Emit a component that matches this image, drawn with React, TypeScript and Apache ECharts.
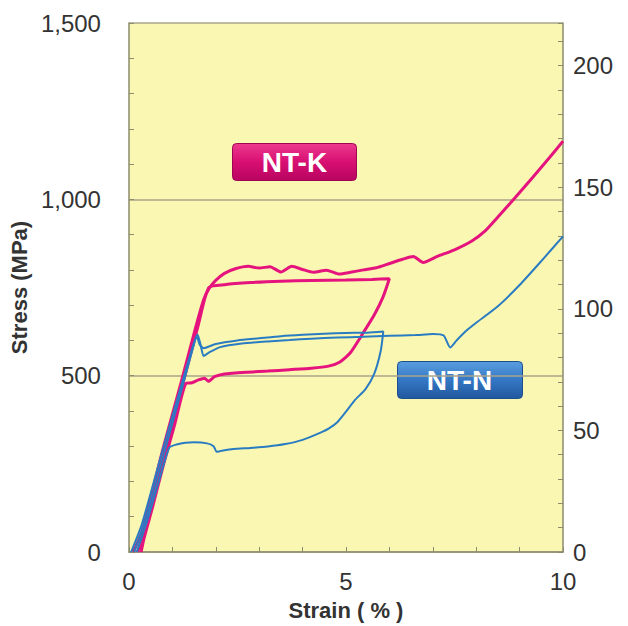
import React, { useEffect, useRef } from 'react';
import * as echarts from 'echarts';

// Unit conversion for the right axis (ksi)
const MPA_PER_KSI = 6.895;

// Tick labels
const strainTicks = [0, 5, 10];
const stressTicks = [0, 500, 1000, 1500];
const ksiTicks = [0, 50, 100, 150, 200];

// NT-K (pink): tensile to 10 % strain  [strain %, stress MPa]
const ntkTensile: [number, number][] = [
  [0.1, 0], [0.3, 60], [0.8, 300], [1.2, 480], [1.5, 620], [1.72, 715], [1.85, 748],
  [2.0, 770], [2.2, 790], [2.45, 803], [2.75, 810], [3.0, 805], [3.25, 809], [3.5, 794],
  [3.75, 810], [4.0, 801], [4.25, 793], [4.55, 799], [4.85, 788], [5.1, 793], [5.4, 800],
  [5.7, 806], [6.0, 818], [6.3, 830], [6.55, 838], [6.78, 821], [7.1, 838], [7.5, 857],
  [7.9, 882], [8.2, 910], [8.5, 950], [8.9, 1005], [9.3, 1062], [9.7, 1120], [10.0, 1165],
];

// NT-K (pink): load to 6 % and unload
const ntkCycle: [number, number][] = [
  [0.2, 0], [0.4, 80], [0.9, 320], [1.3, 505], [1.6, 645], [1.84, 750],
  [2.2, 758], [2.8, 764], [3.5, 768], [4.2, 770], [5.0, 771], [5.6, 773], [6.0, 775],
  [5.85, 722], [5.65, 672], [5.4, 622], [5.1, 565], [4.85, 538], [4.6, 527], [4.2, 521],
  [3.7, 517], [3.2, 513], [2.7, 510], [2.2, 505], [1.97, 497], [1.83, 484], [1.74, 493],
  [1.6, 488], [1.45, 480], [1.31, 478], [1.05, 360], [0.8, 250], [0.55, 130], [0.35, 40], [0.28, 0],
];

// NT-N (blue): tensile to 10 % strain
const ntnTensile: [number, number][] = [
  [0.05, 0], [0.3, 80], [0.8, 300], [1.2, 470], [1.45, 575], [1.58, 617], [1.65, 588],
  [1.72, 556], [1.85, 566], [2.1, 581], [2.6, 591], [3.2, 597], [3.7, 601], [4.2, 605],
  [4.8, 608], [5.4, 610], [6.0, 613], [6.6, 615], [7.0, 618], [7.25, 614], [7.4, 580],
  [7.55, 600], [7.75, 625], [8.0, 650], [8.5, 697], [9.0, 757], [9.5, 825], [10.0, 895],
];

// NT-N (blue): load to 6 % and unload
const ntnCycle: [number, number][] = [
  [0.12, 0], [0.4, 100], [0.9, 320], [1.3, 500], [1.5, 590], [1.56, 612], [1.63, 588],
  [1.72, 578], [2.0, 590], [2.5, 600], [3.0, 606], [3.5, 612], [4.0, 616], [4.5, 619],
  [5.0, 621], [5.5, 622], [5.86, 625],
  [5.8, 570], [5.65, 505], [5.45, 462], [5.2, 430], [5.0, 398], [4.8, 368], [4.6, 350],
  [4.4, 338], [4.0, 318], [3.6, 306], [3.2, 299], [2.8, 295], [2.4, 292], [2.1, 286],
  [2.02, 284], [1.95, 300], [1.8, 308], [1.5, 311], [1.3, 310], [1.1, 305], [0.93, 296],
  [0.7, 205], [0.45, 100], [0.25, 25], [0.18, 0],
];

const FONT = '"Liberation Sans", Arial, sans-serif';
const AXIS_COLOR = '#8d8b6d';
const GRID_COLOR = '#a8a58a';
const TEXT_COLOR = '#333333';
const PINK = '#e5137d';
const BLUE = '#2a7cc2';

export default function App() {
  const ref = useRef<HTMLDivElement>(null);

  useEffect(() => {
    const chart = echarts.init(ref.current!, null, { renderer: 'svg' });

    const tickStyle = { color: AXIS_COLOR, width: 1 };
    const option: any = {
      animation: false,
      grid: {
        left: 128, right: 65, top: 23, bottom: 74,
        show: true, backgroundColor: '#faf7b3', borderWidth: 0,
      },
      xAxis: {
        type: 'value', min: 0, max: 10, interval: 5,
        axisLine: { show: true, onZero: false, lineStyle: { color: AXIS_COLOR, width: 1.5 } },
        axisTick: { show: true, inside: true, length: 5, lineStyle: tickStyle },
        minorTick: { show: true, splitNumber: 5, length: 5, lineStyle: tickStyle },
        splitLine: { show: false },
        axisLabel: {
          margin: 17, fontSize: 24, color: TEXT_COLOR, fontFamily: FONT,
          formatter: (v: number) => (strainTicks.includes(v) ? String(v) : ''),
        },
        name: 'Strain ( % )', nameLocation: 'middle', nameGap: 47,
        nameTextStyle: { fontSize: 22, fontWeight: 'bold', color: TEXT_COLOR, fontFamily: FONT },
      },
      yAxis: [
        {
          type: 'value', min: 0, max: 1500, interval: 500, position: 'left',
          axisLine: { show: true, onZero: false, lineStyle: { color: AXIS_COLOR, width: 1.5 } },
          axisTick: { show: true, inside: true, length: 5, lineStyle: tickStyle },
          minorTick: { show: true, splitNumber: 5, length: 5, lineStyle: tickStyle },
          splitLine: { show: true, lineStyle: { color: GRID_COLOR, width: 1.5 } },
          axisLabel: {
            margin: 28, fontSize: 24, color: TEXT_COLOR, fontFamily: FONT,
            formatter: (v: number) => (stressTicks.includes(v) ? v.toLocaleString('en-US') : ''),
          },
          name: 'Stress (MPa)', nameLocation: 'middle', nameGap: 84,
          nameTextStyle: { fontSize: 22, fontWeight: 'bold', color: TEXT_COLOR, fontFamily: FONT },
        },
        {
          type: 'value', min: 0, max: 1500 / MPA_PER_KSI, interval: 10, position: 'right',
          axisLine: { show: true, onZero: false, lineStyle: { color: AXIS_COLOR, width: 1.5 } },
          axisTick: { show: true, inside: true, length: 5, lineStyle: tickStyle },
          splitLine: { show: false },
          axisLabel: {
            margin: 10, fontSize: 24, color: TEXT_COLOR, fontFamily: FONT,
            formatter: (v: number) => (ksiTicks.includes(v) ? String(v) : ''),
          },
        },
      ],
      series: [
        { name: 'NT-K tensile', data: ntkTensile, color: PINK, lineWidth: 3 },
        { name: 'NT-K cycle', data: ntkCycle, color: PINK, lineWidth: 3 },
        { name: 'NT-N tensile', data: ntnTensile, color: BLUE, lineWidth: 2 },
        { name: 'NT-N cycle', data: ntnCycle, color: BLUE, lineWidth: 2 },
      ].map((s) => ({
        type: 'line',
        name: s.name,
        data: s.data,
        xAxisIndex: 0,
        yAxisIndex: 0,
        showSymbol: false,
        symbol: 'none',
        smooth: 0.2,
        silent: true,
        lineStyle: { color: s.color, width: s.lineWidth },
        itemStyle: { color: s.color },
      })),
      graphic: [
        {
          type: 'group', left: 232, top: 143,
          children: [
            {
              type: 'rect',
              shape: { x: 0, y: 0, width: 124, height: 37, r: 4 },
              style: {
                fill: new echarts.graphic.LinearGradient(0, 0, 0, 1, [
                  { offset: 0, color: '#ec3a8e' },
                  { offset: 0.5, color: '#d80f72' },
                  { offset: 1, color: '#b80460' },
                ]),
                stroke: '#9e0452', lineWidth: 1,
              },
            },
            {
              type: 'text',
              style: {
                x: 62, y: 19, text: 'NT-K', fill: '#ffffff',
                font: `bold 28px ${FONT}`, align: 'center', verticalAlign: 'middle',
              },
            },
          ],
        },
        {
          type: 'group', left: 397, top: 361,
          children: [
            {
              type: 'rect',
              shape: { x: 0, y: 0, width: 125, height: 37, r: 4 },
              style: {
                fill: new echarts.graphic.LinearGradient(0, 0, 0, 1, [
                  { offset: 0, color: '#5a9ee0' },
                  { offset: 0.5, color: '#3477c4' },
                  { offset: 1, color: '#22589e' },
                ]),
                stroke: '#1d4f8e', lineWidth: 1,
              },
            },
            {
              type: 'text',
              style: {
                x: 62, y: 19, text: 'NT-N', fill: '#ffffff',
                font: `bold 28px ${FONT}`, align: 'center', verticalAlign: 'middle',
              },
            },
          ],
        },
      ],
    };

    chart.setOption(option);
    return () => chart.dispose();
  }, []);

  return (
    <div
      ref={ref}
      style={{ position: 'absolute', left: 0, top: 0, width: 628, height: 626, background: '#ffffff' }}
    />
  );
}
